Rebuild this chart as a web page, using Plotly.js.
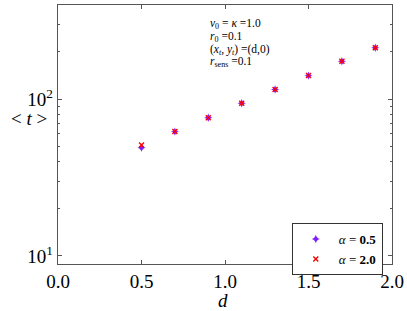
<!DOCTYPE html>
<html>
<head>
<meta charset="utf-8">
<script src="https://cdn.plot.ly/plotly-3.0.1.min.js"></script>
<style>html,body{margin:0;padding:0;background:#fff;}#chart{width:407px;height:311px;}</style>
</head>
<body>
<div id="chart"></div>
<script>
const dValues = [0.5, 0.7, 0.9, 1.1, 1.3, 1.5, 1.7, 1.9];
const tAlpha05 = [49, 62, 76, 94, 115, 141, 174, 212];
const tAlpha20 = [51, 62, 76, 94, 115, 141, 174, 212];
const seriesNames = ['<i>α</i> = <b>0.5</b>', '<i>α</i> = <b>2.0</b>'];
const yTickVals = [10, 100];
const yTickText = ['10<sup>1</sup>', '10<sup>2</sup>'];
const infoLines = [
  '<i>v</i><sub>0</sub> = <i>κ</i> =1.0',
  '<i>r</i><sub>0</sub> =0.1',
  '(<i>x<sub>t</sub></i>, <i>y<sub>t</sub></i>) =(d,0)',
  '<i>r</i><sub>sens</sub> =0.1'
];

const serif = 'Liberation Serif, DejaVu Serif, serif';
const axisColor = '#555';

const traces = [
  {x: dValues, y: tAlpha05, name: seriesNames[0], mode: 'markers', type: 'scatter',
   marker: {symbol: 'star-diamond', size: 6, color: '#7f1fff'}},
  {x: dValues, y: tAlpha20, name: seriesNames[1], mode: 'markers', type: 'scatter',
   marker: {symbol: 'x-thin', size: 5, color: '#ff0000', line: {color: '#ff0000', width: 1.4}}}
];

const infoY = [0.925, 0.876, 0.826, 0.778];
const annotations = infoLines.map((t, i) => ({
  text: t, xref: 'paper', yref: 'paper', x: 0.449, y: infoY[i],
  xanchor: 'left', yanchor: 'middle', showarrow: false,
  font: {family: serif, size: 11.5, color: '#000'}
}));
annotations.push({text: '&lt; <i>t</i> &gt;', xref: 'paper', yref: 'paper',
  x: -0.087, y: 0.562, xanchor: 'center', yanchor: 'middle', showarrow: false,
  font: {family: serif, size: 19, color: '#000'}});
annotations.push({text: '<i>d</i>', xref: 'paper', yref: 'paper',
  x: 0.494, y: -0.14, xanchor: 'center', yanchor: 'middle', showarrow: false,
  font: {family: serif, size: 19, color: '#000'}});

const layout = {
  width: 407, height: 311,
  margin: {l: 58, r: 15, t: 5, b: 47},
  paper_bgcolor: '#fff', plot_bgcolor: '#fff',
  showlegend: true,
  legend: {x: 0.70, y: 0.158, xanchor: 'left', yanchor: 'top',
    bordercolor: '#333', borderwidth: 1, bgcolor: '#fff', itemwidth: 36,
    font: {family: serif, size: 13, color: '#000'}, tracegroupgap: 0},
  xaxis: {range: [0, 2], dtick: 0.5, tick0: 0, tickformat: '.1f',
    ticks: 'inside', ticklen: 4, tickcolor: axisColor, mirror: 'allticks',
    showline: true, linecolor: axisColor, linewidth: 1.2, showgrid: false, zeroline: false,
    tickfont: {family: serif, size: 19, color: '#000'}},
  yaxis: {type: 'log', range: [0.949, 2.599], tickvals: yTickVals, ticktext: yTickText,
    ticks: 'inside', ticklen: 4, tickcolor: axisColor, mirror: 'allticks',
    showline: true, linecolor: axisColor, linewidth: 1.2, showgrid: false, zeroline: false,
    minor: {ticks: 'inside', ticklen: 2, tickcolor: axisColor, dtick: 'D1', showgrid: false},
    tickfont: {family: serif, size: 19, color: '#000'}},
  annotations: annotations
};

Plotly.newPlot('chart', traces, layout, {displayModeBar: false, staticPlot: true});
</script>
</body>
</html>
